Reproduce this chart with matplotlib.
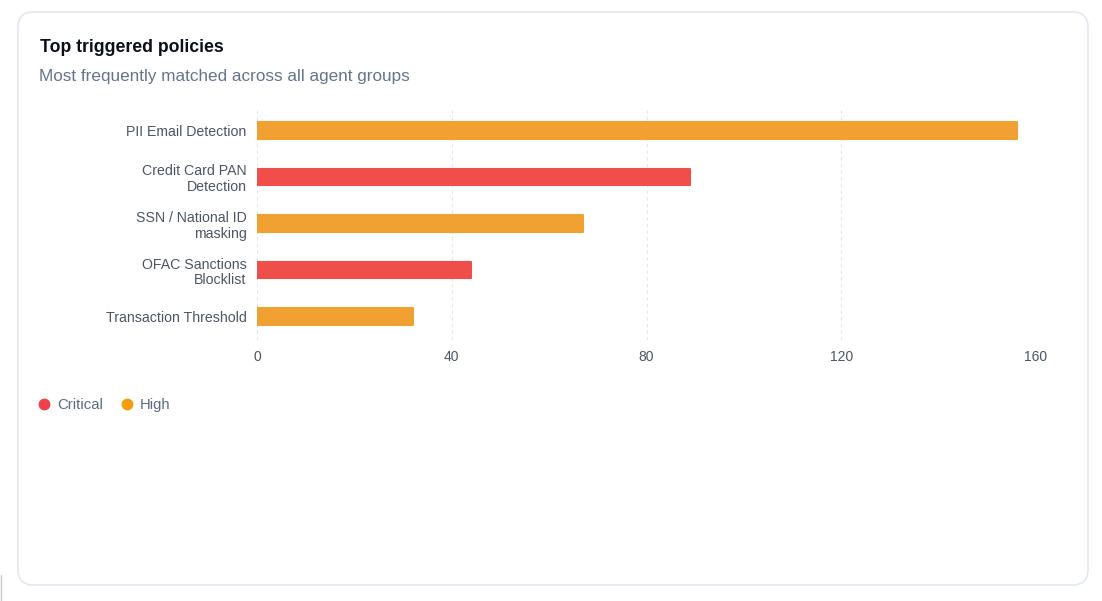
import matplotlib.pyplot as plt
from matplotlib.patches import FancyBboxPatch
from matplotlib.lines import Line2D

plt.rcParams['font.family'] = ['Liberation Sans', 'DejaVu Sans']

policies = ['PII Email Detection', 'Credit Card PAN\nDetection', 'SSN / National ID\nmasking',
            'OFAC Sanctions\nBlocklist', 'Transaction Threshold']
counts = [156, 89, 67, 44, 32]
severity = ['High', 'Critical', 'High', 'Critical', 'High']
xticks = [0, 40, 80, 120, 160]

bar_colors = {'Critical': '#ef4e4a', 'High': '#f1a032'}
legend_colors = {'Critical': '#f0404a', 'High': '#f59e0b'}

fig = plt.figure(figsize=(11.02, 6.01), dpi=100)
fig.patch.set_facecolor('white')

# card background
card = FancyBboxPatch((18 / 1102, 1 - 585 / 601), 1070 / 1102, 573 / 601,
                      boxstyle='round,pad=0,rounding_size=0.014', mutation_aspect=1102 / 601,
                      transform=fig.transFigure, facecolor='white', edgecolor='#e2e8f0',
                      linewidth=1.2, zorder=-10)
fig.patches.append(card)
fig.add_artist(Line2D([1 / 1102, 1 / 1102], [1 - 575 / 601, 1.0 - 600 / 601],
                      transform=fig.transFigure, color='#c8ccd2', linewidth=1))

fig.text(40 / 1102, 1 - 47 / 601, 'Top triggered policies', fontsize=12.7, fontweight='bold',
         color='#0b0f19', va='center', ha='left')
fig.text(39 / 1102, 1 - 77 / 601, 'Most frequently matched across all agent groups', fontsize=12.3,
         color='#64748b', va='center', ha='left')

ax = fig.add_axes([257 / 1102, 1 - 340 / 601, 779 / 1102, 233 / 601])
ax.patch.set_alpha(0)
ypos = list(range(len(policies)))
colors = [bar_colors[s] for s in severity]
ax.barh(ypos, counts, height=0.36, color=colors, edgecolor=colors, linewidth=1.5,
        joinstyle='round', zorder=3)
ax.set_ylim(len(policies) - 0.5, -0.5)
ax.set_xlim(0, 160)
ax.set_xticks(xticks)
ax.set_yticks(ypos)
ax.set_yticklabels(policies, fontsize=10.2, color='#4b5563', linespacing=1.15)
ax.tick_params(axis='x', labelsize=10, labelcolor='#4b5563', length=0, pad=7)
ax.tick_params(axis='y', length=0, pad=7.5)
for s in ax.spines.values():
    s.set_visible(False)
ax.grid(axis='x', color='#e5e7eb', linestyle=(0, (3, 3)), linewidth=0.8, zorder=0)
ax.set_axisbelow(True)

handles = [Line2D([], [], marker='o', linestyle='none', markersize=7.5,
                  markerfacecolor=legend_colors[k], markeredgecolor=legend_colors[k], label=k)
           for k in ['Critical', 'High']]
fig.legend(handles=handles, loc='center left', bbox_to_anchor=(37 / 1102, 1 - 405 / 601),
           ncol=2, frameon=False, fontsize=10.7, labelcolor='#5b6b82', handletextpad=0.35,
           columnspacing=1.13, handlelength=1.0, borderaxespad=0, borderpad=0)

fig.savefig('out.png', dpi=100, facecolor='white')
